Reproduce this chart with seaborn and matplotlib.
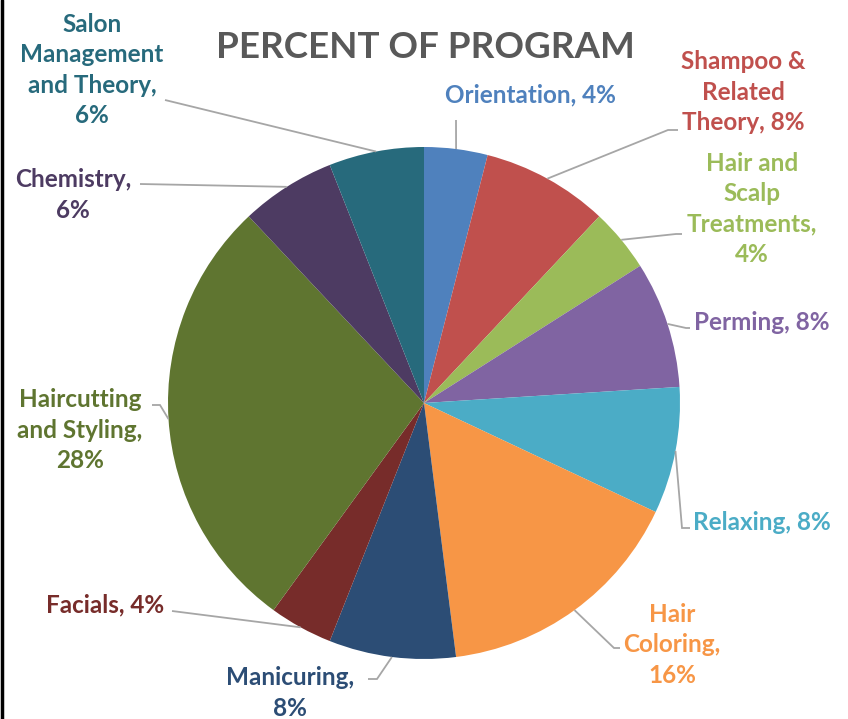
import numpy as np
import matplotlib
matplotlib.use('Agg')
import matplotlib.pyplot as plt
import seaborn as sns

sns.set_theme(style='white')
plt.rcParams['font.family'] = ['Lato', 'DejaVu Sans']

# data
categories = ['Orientation', 'Shampoo &\nRelated\nTheory', 'Hair and\nScalp\nTreatments,', 'Perming',
              'Relaxing', 'Hair\nColoring,', 'Manicuring,', 'Facials',
              'Haircutting\nand Styling,', 'Chemistry,', 'Salon\nManagement\nand Theory,']
percents = [4, 8, 4, 8, 8, 16, 8, 4, 28, 6, 6]
colors = ['#4F81BD', '#C0504D', '#9BBB59', '#8064A2', '#4BACC6', '#F79646',
          '#2C4D75', '#772C2A', '#5F7530', '#4D3B62', '#276A7C']

# label layout in pixels: text centre x, y, leader bend x, y, horizontal tail length
label_pos = [(530, 95, 456, 120, 0), (743, 92, 668, 130, 10), (752, 209, 676, 234, 6),
             (762, 323, 686, 328, 4), (762, 522, 682, 528, 8), (672, 645, 614, 648, 6),
             (290, 693, 377, 679, -9), (105, 605, 172, 611, 0), (80, 430, 160, 405, -8),
             (73, 195, 140, 184, 0), (92, 70, 165, 100, 0)]

W, H = 848, 719
CX, CY, R = 424, 403, 256

def px(x, y):
    return (x - CX) / R, (CY - y) / R

fig = plt.figure(figsize=(W / 100, H / 100), dpi=100)
ax = fig.add_axes([0, 0, 1, 1])

wedges, _ = ax.pie(percents, colors=colors, startangle=90, counterclock=False,
                   radius=1, center=(0, 0), frame=True,
                   wedgeprops=dict(linewidth=0))
ax.set_xlim(-CX / R, (W - CX) / R)
ax.set_ylim(-(H - CY) / R, CY / R)
ax.axis('off')

for w, cat, p, col, pos in zip(wedges, categories, percents, colors, label_pos):
    mid = np.deg2rad((w.theta1 + w.theta2) / 2)
    sx, sy = np.cos(mid), np.sin(mid)
    tx, ty = px(pos[0], pos[1])
    bx, by = px(pos[2], pos[3])
    ex = bx + pos[4] / R
    ax.plot([sx, bx, ex], [sy, by, by], color='#a6a6a6', lw=1.3,
            solid_capstyle='butt', solid_joinstyle='miter')
    if cat.endswith(','):
        txt = f'{cat}\n{p}%'
    else:
        txt = f'{cat}, {p}%'
    ax.text(tx, ty, txt, ha='center', va='center', color=col, fontsize=17.5,
            fontweight='bold', linespacing=1.4)

ax.text(*px(425, 48), 'PERCENT OF PROGRAM', ha='center', va='center',
        color='#595959', fontsize=26.5, fontweight='bold')

fig.add_artist(plt.Line2D([0.002, 0.002], [0, 1], color='black', lw=2.5,
                          transform=fig.transFigure))
fig.savefig('out.png', dpi=100)
